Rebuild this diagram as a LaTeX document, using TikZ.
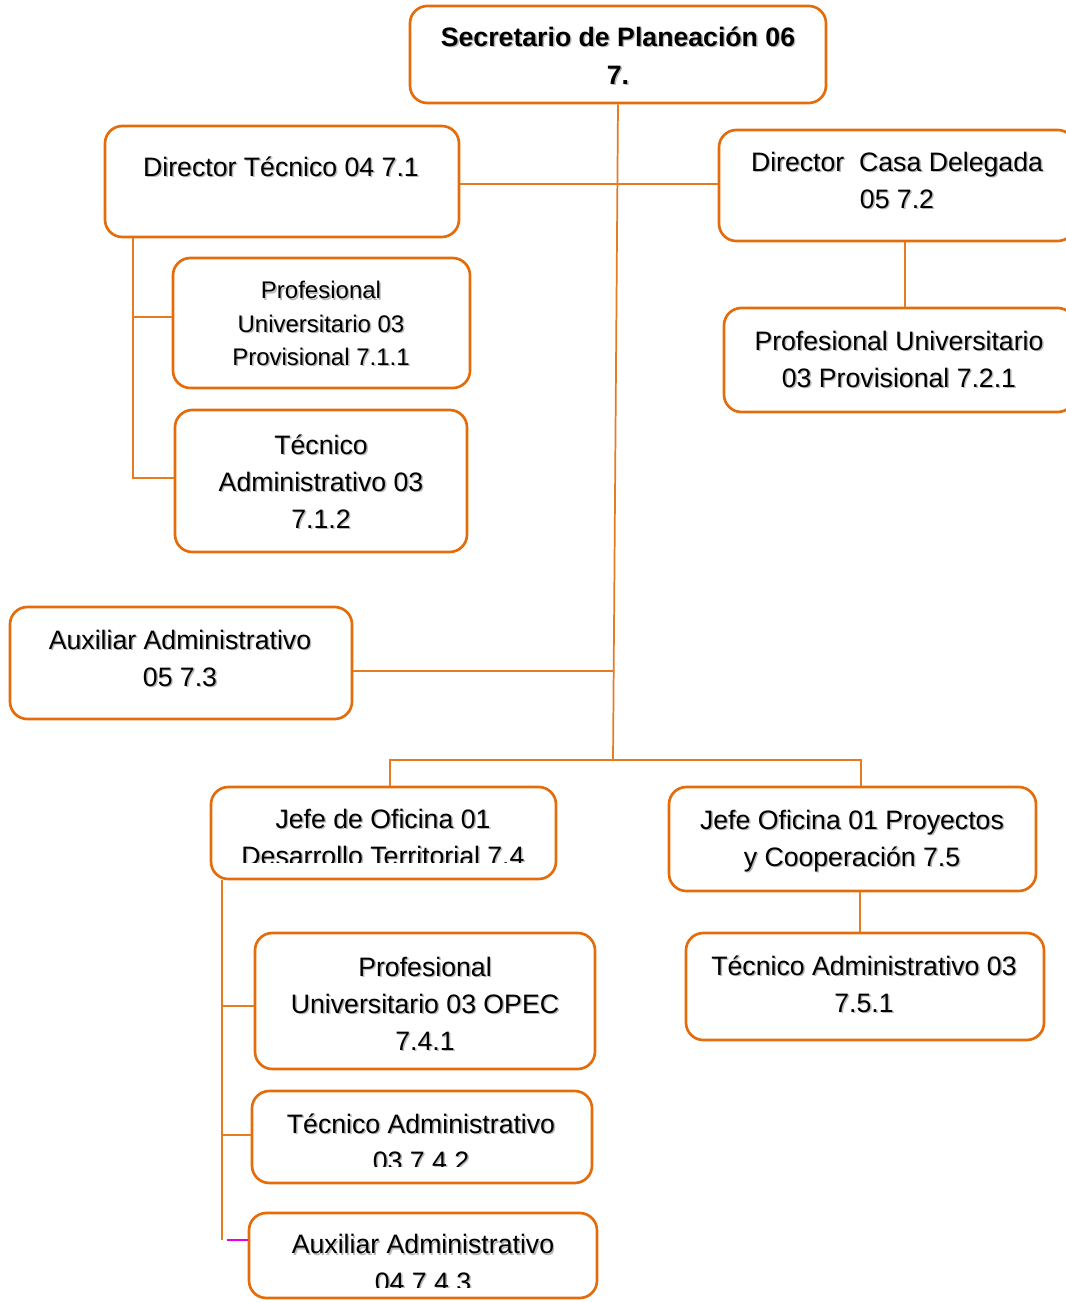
\documentclass[tikz,border=0pt]{standalone}
\usepackage{fontspec}
\setmainfont{Liberation Sans}
\usetikzlibrary{fit}
\definecolor{boxor}{RGB}{228,108,10}
\definecolor{lnor}{RGB}{232,122,32}
\definecolor{mag}{RGB}{230,0,230}
\newcommand\lbl[5]{%
  \node[#1, text=black!28, xshift=1.1pt, yshift=-1.1pt] at (#3,#4) {#5};
  \node[#1] (#2) at (#3,#4) {#5};}
\begin{document}
\begin{tikzpicture}[x=0.75pt,y=-0.75pt,
  box/.style={draw=boxor, line width=2pt, rounded corners=13pt, fill=white, inner sep=0pt},
  conn/.style={draw=lnor, line width=1.3pt},
  big/.style={font=\fontsize{20}{27.9}\selectfont, align=center, inner sep=0pt, anchor=base},
  bigb/.style={font=\bfseries\fontsize{20}{28.5}\selectfont, align=center, inner sep=0pt, anchor=base},
  small/.style={font=\fontsize{18}{25.1}\selectfont, align=center, inner sep=0pt, anchor=base}]
\useasboundingbox[fill=white] (0,0) rectangle (1065,1302);

% boxes
\node[box, fit={(410,6) (826,103)}] (sec) {};
\node[box, fit={(105,126) (459,237)}] (dt) {};
\node[box, fit={(719,130) (1075,241)}] (cd) {};
\node[box, fit={(173,258) (470,388)}] (pu1) {};
\node[box, fit={(175,410) (467,552)}] (ta2) {};
\node[box, fit={(724,308) (1075,412)}] (pu2) {};
\node[box, fit={(10,607) (352,719)}] (aux3) {};
\node[box, fit={(211,787) (556,879)}] (j74) {};
\node[box, fit={(669,787) (1036,891)}] (j75) {};
\node[box, fit={(255,933) (595,1069)}] (pu3) {};
\node[box, fit={(686,933) (1044,1040)}] (t751) {};
\node[box, fit={(252,1091) (592,1183)}] (t742) {};
\node[box, fit={(249,1213) (597,1298)}] (a743) {};

% texts (y = baseline of the last line)
\lbl{bigb}{tsec}{618}{84.5}{Secretario de Planeación 06\\7.}
\lbl{big}{tdt}{281}{176.5}{Director Técnico 04 7.1}
\lbl{big}{tcd}{897}{208.5}{Director\ \ Casa Delegada\\05 7.2}
\lbl{small}{tpu1}{321}{365.5}{Profesional\\Universitario 03\\Provisional 7.1.1}
\lbl{big}{tta2}{321}{528.5}{Técnico\\Administrativo 03\\7.1.2}
\lbl{big}{tpu2}{899}{387.5}{Profesional Universitario\\03 Provisional 7.2.1}
\lbl{big}{taux3}{180}{686.5}{Auxiliar Administrativo\\05 7.3}
\begin{scope}
\clip (211,787) rectangle (556,862);
\lbl{big}{tj74}{383}{865.5}{Jefe de Oficina 01\\Desarrollo Territorial 7.4}
\end{scope}
\lbl{big}{tj75}{852}{866.5}{Jefe Oficina 01 Proyectos\\y Cooperación 7.5}
\lbl{big}{tpu3}{425}{1050.5}{Profesional\\Universitario 03 OPEC\\7.4.1}
\lbl{big}{tt751}{864}{1012.5}{Técnico Administrativo 03\\7.5.1}
\begin{scope}
\clip (252,1091) rectangle (592,1166);
\lbl{big}{tt742}{421}{1170.5}{Técnico Administrativo\\03 7.4.2}
\end{scope}
\begin{scope}
\clip (249,1213) rectangle (597,1287);
\lbl{big}{ta743}{423}{1291}{Auxiliar Administrativo\\04 7.4.3}
\end{scope}

% connectors
\coordinate (hub) at (613,760);
\coordinate (b1) at (390,760);
\coordinate (b2) at (861,760);
\coordinate (v1) at (133,0);
\coordinate (v2) at (905,0);
\coordinate (v3) at (222,0);
\coordinate (v4) at (860,0);
\coordinate (m1) at (0,1240);
\coordinate (m2) at (0,1006);
\coordinate (m3) at (0,1135);
\coordinate (m4) at (0,671);
\coordinate (m5) at (0,184);
\coordinate (m6) at (0,317);
\coordinate (m7) at (0,478);

\draw[conn] (sec.south) -- (hub);
\draw[conn] (dt.east |- m5) -- (cd.west |- m5);
\draw[conn] (aux3.east |- m4) -- (hub |- m4);
\draw[conn] (b1 |- j74.north) -- (b1) -- (b2) -- (b2 |- j75.north);
\draw[conn] (v1 |- dt.south) -- (v1 |- m7) -- (ta2.west |- m7);
\draw[conn] (v1 |- m6) -- (pu1.west |- m6);
\draw[conn] (v2 |- cd.south) -- (v2 |- pu2.north);
\draw[conn] (v3 |- j74.south) -- (v3 |- m1);
\draw[conn] (v3 |- m2) -- (pu3.west |- m2);
\draw[conn] (v3 |- m3) -- (t742.west |- m3);
\draw[mag, line width=1.3pt] ([xshift=3.5pt]v3 |- m1) -- (a743.west |- m1);
\draw[conn] (v4 |- j75.south) -- (v4 |- t751.north);
\end{tikzpicture}
\end{document}
